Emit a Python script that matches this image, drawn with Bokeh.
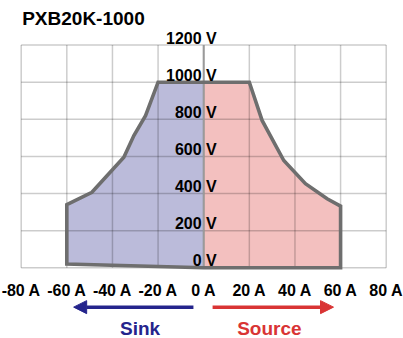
from bokeh.plotting import figure
from bokeh.models import Range1d, Arrow, NormalHead
from bokeh.core.properties import value
from bokeh.embed import file_html
from bokeh.resources import INLINE

title_text = "PXB20K-1000"
current_ticks = [-80, -60, -40, -20, 0, 20, 40, 60, 80]
current_labels = ["-80 A", "-60 A", "-40 A", "-20 A", "0 A", "20 A", "40 A", "60 A", "80 A"]
voltage_ticks = [0, 200, 400, 600, 800, 1000, 1200]
voltage_labels = ["0 V", "200 V", "400 V", "600 V", "800 V", "1000 V", "1200 V"]

# Sink region (negative current)
sink_current = [-20, 0, 0, -60, -60, -49, -41, -35, -30.6, -25.5]
sink_voltage = [1000, 1000, 0, 20, 340, 407, 515, 596, 713, 820]
# Source region (positive current)
source_current = [0, 20, 25.6, 35.1, 44.6, 54.1, 60, 60, 0]
source_voltage = [1000, 1000, 794, 578, 453, 372, 332, 0, 0]

direction_labels = ["Sink", "Source"]
direction_colors = ["#24248c", "#d93434"]

FONT = value("Liberation Sans")

p = figure(width=403, height=338,
           x_range=Range1d(-89.07, 87.58), y_range=Range1d(-381.0, 1440.3),
           x_axis_location=None, y_axis_location=None,
           min_border=0, toolbar_location=None, output_backend="svg")
p.grid.visible = False
p.outline_line_color = None
p.background_fill_color = "white"
p.border_fill_color = "white"

# filled regions
p.patch(sink_current, sink_voltage, fill_color="#bbbbda", line_color=None)
p.patch(source_current, source_voltage, fill_color="#f3c0bf", line_color=None)

# grid
xmin, xmax = current_ticks[0], current_ticks[-1]
ymin, ymax = voltage_ticks[0], voltage_ticks[-1]
p.segment(x0=current_ticks, y0=[ymin] * len(current_ticks),
          x1=current_ticks, y1=[ymax] * len(current_ticks),
          line_color="black", line_alpha=0.2, line_width=1.5)
p.segment(x0=[xmin] * len(voltage_ticks), y0=voltage_ticks,
          x1=[xmax] * len(voltage_ticks), y1=voltage_ticks,
          line_color="black", line_alpha=0.2, line_width=1.5)
# zero-current line
p.line([0, 0], [ymin, ymax], line_color="#9a9a9a", line_width=2)

# outline of the operating area
outline_x = source_current[1:] + sink_current[3:] + sink_current[:1]
outline_y = source_voltage[1:] + sink_voltage[3:] + sink_voltage[:1]
p.patch(outline_x, outline_y, fill_color=None, line_color="#6e6e6e",
        line_width=3.6, line_join="miter")

# tick labels
p.text(x=current_ticks, y=[ymin] * len(current_ticks), text=current_labels,
       text_align="center", text_baseline="alphabetic", y_offset=23,
       text_font=FONT, text_font_style="bold", text_font_size="16px", text_color="black")
p.text(x=[0] * len(voltage_ticks), y=voltage_ticks, text=voltage_labels,
       text_align="right", text_baseline="alphabetic", x_offset=13, y_offset=-7,
       text_font=FONT, text_font_style="bold", text_font_size="16px", text_color="black")

# title
p.text(x=[xmin], y=[ymax], text=[title_text], text_align="left", text_baseline="alphabetic",
       x_offset=1, y_offset=-27, text_font=FONT, text_font_style="bold",
       text_font_size="19px", text_color="black")

# direction arrows
p.add_layout(Arrow(x_start=-4.5, y_start=-212, x_end=-57, y_end=-212,
                   line_color=direction_colors[0], line_width=3.5,
                   end=NormalHead(size=13, fill_color=direction_colors[0],
                                  line_color=direction_colors[0])))
p.add_layout(Arrow(x_start=3.9, y_start=-212, x_end=56.9, y_end=-212,
                   line_color=direction_colors[1], line_width=3.5,
                   end=NormalHead(size=13, fill_color=direction_colors[1],
                                  line_color=direction_colors[1])))
p.text(x=[-27.9, 28.8], y=[-326, -326], text=direction_labels,
       text_align="center", text_baseline="alphabetic",
       text_font=FONT, text_font_style="bold", text_font_size="19px",
       text_color=direction_colors)

open("out.html", "w").write(file_html(p, INLINE))
